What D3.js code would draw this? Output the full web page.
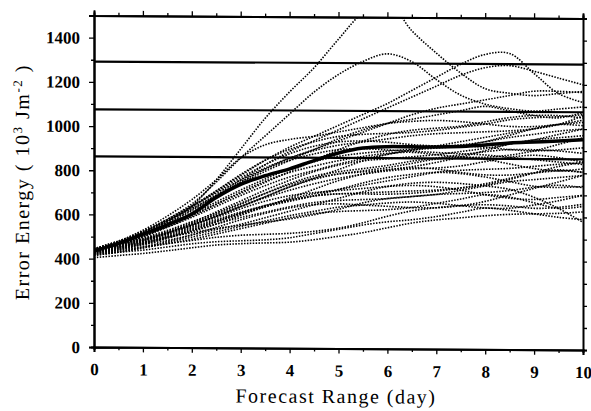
<!DOCTYPE html>
<html>
<head>
<meta charset="utf-8">
<script src="https://cdn.jsdelivr.net/npm/d3@7"></script>
<style>
  body { margin: 0; background: #fff; }
  svg { display: block; }
  .tick-label { font-family: "Liberation Serif", serif; font-weight: bold; font-size: 17px; fill: #000; }
  .title { font-family: "Liberation Serif", serif; font-size: 20px; fill: #000; letter-spacing: 1.5px; }
</style>
</head>
<body>
<div id="chart"></div>
<script>
// forecast days, every half day
const days = [0,0.5,1,1.5,2,2.5,3,3.5,4,4.5,5,5.5,6,6.5,7,7.5,8,8.5,9,9.5,10];

// ensemble mean (thick line)
const meanEnergy = [435,470,512,555,605,680,740,780,812,850,885,908,915,915,915,918,925,935,940,945,952];

// horizontal reference levels
const refLevels = [1292, 1076, 863];

// individual members (dotted), one value per half day
const members = [
  [405,415,425,438,452,465,472,476,480,492,508,525,548,570,585,595,605,612,615,618,625],
  [420,430,440,455,470,480,485,490,500,520,540,560,575,585,600,620,640,630,615,600,590],
  [425,440,455,470,485,500,510,515,520,530,545,570,600,625,640,650,655,650,640,645,660],
  [430,445,465,485,510,535,560,590,620,650,680,710,735,750,755,750,740,725,690,640,578],
  [415,430,450,470,490,515,540,565,590,610,620,625,630,640,660,680,700,690,665,640,650],
  [440,455,475,500,520,540,555,570,585,605,630,660,680,690,700,720,740,760,770,780,790],
  [435,450,470,495,525,560,600,640,670,690,700,705,710,715,720,730,745,770,800,830,850],
  [430,450,475,505,540,575,610,640,665,690,720,750,775,790,800,795,780,760,740,735,740],
  [425,445,470,500,535,570,605,640,680,720,760,790,810,820,815,800,790,790,800,810,805],
  [445,465,490,520,555,595,640,685,730,765,790,805,820,840,860,870,860,840,820,810,820],
  [430,455,485,520,560,605,650,700,745,780,800,815,830,850,865,880,895,905,905,900,890],
  [440,465,495,530,570,610,655,700,740,770,790,800,810,825,845,870,900,930,950,960,970],
  [435,460,490,525,565,615,665,715,760,800,830,850,860,870,880,895,910,930,950,975,1000],
  [445,470,505,545,590,640,690,735,775,805,835,860,880,900,915,920,915,905,900,905,915],
  [430,460,500,545,595,650,705,755,795,825,850,870,885,890,880,870,870,880,900,930,960],
  [440,470,510,555,605,660,715,765,810,845,870,885,895,905,920,940,960,980,1000,1020,1040],
  [440,475,520,575,640,705,770,830,880,915,935,940,935,925,920,925,940,960,975,990,1000],
  [445,480,525,580,640,700,760,815,860,895,920,935,950,965,975,980,985,990,1000,1020,1060],
  [435,470,515,570,635,710,785,850,900,935,960,970,975,980,990,1005,1020,1040,1050,1055,1065],
  [430,465,510,570,640,760,900,1040,1160,1270,1400,1520,1570,1440,1340,1250,1180,1160,1150,1160,1170],
  [435,470,520,580,650,750,860,960,1060,1160,1240,1300,1335,1300,1220,1150,1110,1090,1080,1090,1100],
  [440,475,520,575,640,710,780,850,910,960,1010,1060,1110,1170,1230,1290,1335,1340,1250,1160,1120],
  [440,470,515,565,625,690,760,830,890,940,990,1040,1090,1140,1190,1240,1275,1285,1260,1230,1200],
  [430,465,510,560,620,685,750,810,860,900,940,980,1020,1060,1090,1110,1130,1150,1170,1170,1165],
  [445,480,525,575,630,690,745,800,850,900,950,990,1020,1040,1060,1080,1100,1080,1060,1050,1075],
  [435,465,505,550,600,650,700,750,800,850,900,940,970,990,1000,1010,1030,1050,1060,1060,1050],
  [425,450,480,515,555,595,640,685,730,770,810,850,880,900,910,920,940,970,1000,1020,1015],
  [430,455,485,520,560,600,640,680,715,745,770,790,805,815,820,830,850,870,880,870,850],
  [420,440,465,495,530,570,610,645,675,700,720,740,760,780,800,810,815,820,830,840,848],
  [435,455,480,510,545,580,615,645,670,690,700,700,700,705,715,730,750,775,800,815,803],
  [425,445,470,500,530,560,590,615,640,660,670,675,680,690,700,705,710,720,735,745,735],
  [440,460,485,515,550,590,630,665,690,705,715,725,735,740,735,720,700,685,680,690,700],
  [415,430,450,475,500,525,550,575,600,620,640,650,660,665,660,650,640,640,655,675,700],
  [420,435,455,480,510,545,580,610,635,650,655,650,645,640,640,650,670,700,730,760,790],
  [445,480,530,595,670,760,860,920,945,960,980,1000,1020,1030,1035,1030,1020,1010,1010,1020,1030],
  [430,460,500,550,610,680,750,810,850,880,900,905,900,895,890,885,880,870,860,850,840]
];

const xTicks = [0,1,2,3,4,5,6,7,8,9,10];
const yTicks = [0,200,400,600,800,1000,1200,1400];

const w = 591, h = 411;
const padLeft = 94, padRight = 583, padTop = 15, padBottom = 346.5;

const x = d3.scaleLinear().domain([0, 10]).range([padLeft, padRight]);
const y = d3.scaleLinear().domain([0, 1500]).range([padBottom, padTop]);

const svg = d3.select('#chart').append('svg')
  .attr('width', w).attr('height', h);

// scanned figure is slightly skewed
const g = svg.append('g').attr('transform', 'skewY(0.35)');

g.append('clipPath').attr('id', 'plot-clip')
  .append('rect')
  .attr('x', padLeft).attr('y', padTop)
  .attr('width', padRight - padLeft).attr('height', padBottom - padTop);

const plot = g.append('g').attr('clip-path', 'url(#plot-clip)');

const line = d3.line()
  .x((d, i) => x(days[i]))
  .y(d => y(d))
  .curve(d3.curveCatmullRom);

//members
plot.selectAll('.member')
  .data(members)
  .enter()
  .append('path')
  .attr('class', 'member')
  .attr('d', d => line(d))
  .attr('fill', 'none')
  .attr('stroke', '#000')
  .attr('stroke-width', 1.6)
  .attr('stroke-dasharray', '1.5,1.4');

//reference levels
plot.selectAll('.level')
  .data(refLevels)
  .enter()
  .append('line')
  .attr('x1', x(0)).attr('x2', x(10))
  .attr('y1', d => y(d)).attr('y2', d => y(d))
  .attr('stroke', '#000')
  .attr('stroke-width', 2.2);

//mean
plot.append('path')
  .attr('d', line(meanEnergy))
  .attr('fill', 'none')
  .attr('stroke', '#000')
  .attr('stroke-width', 3.5);

//axes
const xMinor = d3.range(0.5, 10, 1);
const yMinor = d3.range(100, 1500, 200);

g.append('g')
  .attr('transform', `translate(0,${padBottom})`)
  .call(d3.axisBottom(x).tickValues(xTicks).tickSize(5).tickPadding(11).tickFormat(d3.format('d')))
  .call(a => a.selectAll('text').attr('class', 'tick-label').attr('font-size', null).attr('font-family', null));
g.append('g')
  .attr('transform', `translate(0,${padBottom})`)
  .call(d3.axisBottom(x).tickValues(xMinor).tickSize(3).tickFormat(''));

g.append('g')
  .attr('transform', `translate(0,${padTop})`)
  .call(d3.axisTop(x).tickValues(xTicks).tickSize(5).tickFormat(''));
g.append('g')
  .attr('transform', `translate(0,${padTop})`)
  .call(d3.axisTop(x).tickValues(xMinor).tickSize(3).tickFormat(''));

g.append('g')
  .attr('transform', `translate(${padLeft},0)`)
  .call(d3.axisLeft(y).tickValues(yTicks).tickSize(5).tickPadding(9).tickFormat(d3.format('d')))
  .call(a => a.selectAll('text').attr('class', 'tick-label').attr('font-size', null).attr('font-family', null));
g.append('g')
  .attr('transform', `translate(${padLeft},0)`)
  .call(d3.axisLeft(y).tickValues(yMinor).tickSize(3).tickFormat(''));

g.append('g')
  .attr('transform', `translate(${padRight},0)`)
  .call(d3.axisRight(y).tickValues(d3.range(0, 1500, 100)).tickSize(4).tickFormat(''));

g.selectAll('.domain').attr('stroke-width', 2);
g.selectAll('.tick line').attr('stroke-width', 1.3);

//axis titles
g.append('text')
  .attr('class', 'title')
  .attr('x', 336).attr('y', 401)
  .attr('text-anchor', 'middle')
  .text('Forecast Range (day)');

const yt = g.append('text')
  .attr('class', 'title')
  .attr('transform', 'translate(29,182) rotate(-90)')
  .attr('text-anchor', 'middle');
yt.append('tspan').text('Error Energy ( 10');
yt.append('tspan').attr('dy', -7).style('font-size', '13px').text('3');
yt.append('tspan').attr('dy', 7).text(' Jm');
yt.append('tspan').attr('dy', -7).style('font-size', '13px').text('-2');
yt.append('tspan').attr('dy', 7).text(' )');
</script>
</body>
</html>
